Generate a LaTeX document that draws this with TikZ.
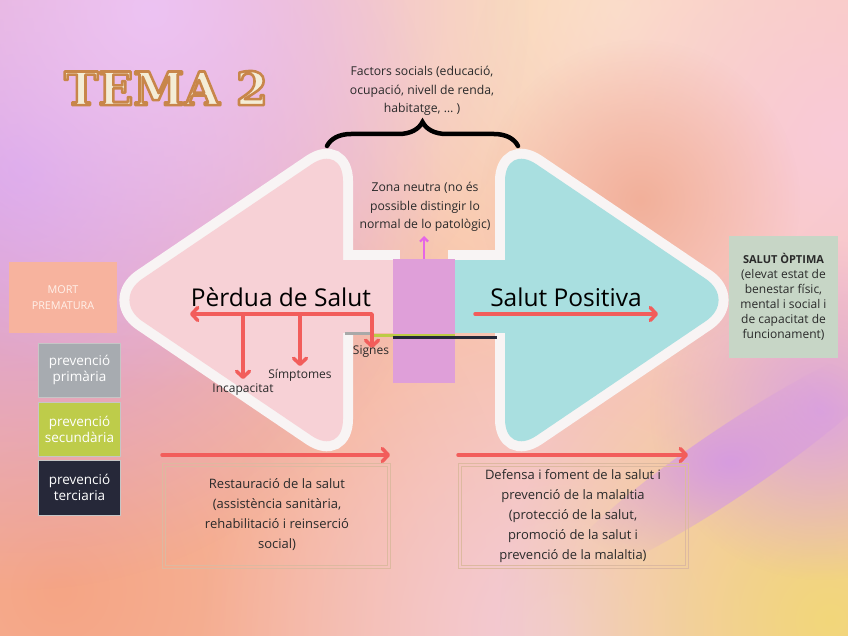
\documentclass[tikz,border=0pt]{standalone}
\usepackage{fontspec}
\setmainfont{Open Sans}
\newfontfamily\titlefont{DejaVu Serif}
\usetikzlibrary{arrows.meta,decorations.pathreplacing,fadings,calc}
\tikzfading[name=blobfade, inner color=transparent!0, outer color=transparent!100]
\definecolor{bgbase}{HTML}{F8C1AA}
\definecolor{pinkfill}{HTML}{F7D1D6}
\definecolor{cyanfill}{HTML}{A9DFE0}
\definecolor{bordercol}{HTML}{F8F4F4}
\definecolor{purplebox}{HTML}{DF9FD9}
\definecolor{redarr}{HTML}{F25D5B}
\definecolor{magarr}{HTML}{E566E6}
\definecolor{mortfill}{HTML}{F7B39E}
\definecolor{primfill}{HTML}{A7ABB0}
\definecolor{secfill}{HTML}{BECC4A}
\definecolor{terfill}{HTML}{262839}
\definecolor{optfill}{HTML}{C7D6C6}
\definecolor{boxline}{HTML}{DDB9A0}
\definecolor{titlecream}{HTML}{F4EDD6}
\definecolor{titlebrown}{HTML}{C8864A}
\definecolor{txt}{HTML}{2A2A2A}
\definecolor{greyline}{HTML}{A9A9A9}
\definecolor{greenline}{HTML}{BCCB45}
\definecolor{darkline}{HTML}{262839}
\definecolor{bgorange}{HTML}{F5A585}
\definecolor{bgpurple}{HTML}{D49DE8}
\definecolor{bglav}{HTML}{EDC3F3}
\definecolor{bgcream}{HTML}{FCE6C4}
\definecolor{bgpink}{HTML}{F9CAD8}
\definecolor{bgpinkb}{HTML}{F3CBD8}
\definecolor{bgyellow}{HTML}{F2D77A}
\definecolor{bghaze}{HTML}{DDA5DD}
\definecolor{bgstreak}{HTML}{D79CDF}
\definecolor{bgsalmon}{HTML}{F2B09A}
\begin{document}
\begin{tikzpicture}[x=1pt,y=-1pt,
  redarrow/.style={draw=redarr, line width=3.5pt, line cap=round, -{Straight Barb[length=6pt,width=13pt,round]}},
  smalltxt/.style={font=\fontsize{12.2}{18.5}\selectfont, text=txt, align=center, inner sep=0pt},
  bigtxt/.style={font=\fontsize{24.5}{28}\selectfont, text=black, inner sep=0pt},
  labeltxt/.style={font=\fontsize{12}{13}\selectfont, text=txt, inner sep=0pt},
  prevbox/.style={draw=gray!45, line width=0.8pt, minimum width=82pt, minimum height=54pt, align=center, text=white, font=\fontsize{13.5}{16}\selectfont, inner sep=0pt},
  bottomtxt/.style={font=\fontsize{13}{20}\selectfont, text=txt, align=center, inner sep=0pt},
  blob/.style={path fading=blobfade},
  titlestyle/.style={font=\titlefont\bfseries\fontsize{46}{50}\selectfont, inner sep=0pt}
]
\useasboundingbox (0,0) rectangle (848,636);
% background
\fill[bgbase] (0,0) rectangle (848,636);
\fill[blob, bgorange] (60,590) circle (460pt);
\fill[blob, bgpinkb] (560,630) circle (360pt);
\fill[blob, bgcream] (620,10) circle (380pt);
\fill[blob, bgpink] (840,140) circle (380pt);
\fill[blob, bgsalmon] (640,200) circle (160pt);
\fill[blob, bgpurple] (20,170) circle (420pt);
\fill[blob, bglav] (150,10) circle (380pt);
\fill[blob, bgyellow] (830,620) circle (330pt);
\fill[blob, bghaze] (820,410) circle (170pt);
\fill[blob, bgstreak, rotate around={34:(730,462)}] (730,462) ellipse (210pt and 34pt);

% title: glyphs filled in cream and stroked in brown
\node[titlestyle, text=titlecream] (title) at (166,88) {\special{pdf:literal direct 2 Tr 2.6 w 1 j 0.784 0.525 0.290 RG}TEMA 2\special{pdf:literal direct 0 Tr 0 0 0 RG}};

% shapes: white borders
\draw[bordercol, line width=20pt, rounded corners=38pt] (343,300) -- (343,143) -- (111,300) -- (343,457) -- cycle;
\draw[bordercol, line width=20pt] (330,260) -- (400,260);
\draw[bordercol, line width=20pt, rounded corners=38pt] (505,300) -- (505,143) -- (737,300) -- (505,457) -- cycle;
\draw[bordercol, line width=20pt] (448,260) -- (518,260);
% fills
\fill[pinkfill, rounded corners=38pt] (343,300) -- (343,143) -- (111,300) -- (343,457) -- cycle;
\fill[pinkfill] (330,260) rectangle (400,333);
\fill[cyanfill, rounded corners=38pt] (505,300) -- (505,143) -- (737,300) -- (505,457) -- cycle;
\fill[cyanfill] (448,260) rectangle (518,333);
% neutral zone
\fill[purplebox] (393,259) rectangle (455,383);
\coordinate (ztop) at (424,259);
\coordinate (zarrow) at (424,236);
\draw[magarr, line width=2.2pt, -{Straight Barb[length=4pt,width=8pt]}] (ztop) -- (zarrow);

% prevention lines
\draw[greyline, line width=3pt] (345,333) -- (373,333);
\draw[greenline, line width=3pt] (373,335.5) -- (455,335.5);
\draw[darkline, line width=3pt] (393,337) -- (497,337);

% brace
\coordinate (bl) at (327,146);
\coordinate (br) at (518,146);
\draw[black, line width=4.5pt, line cap=round, decorate, decoration={brace, amplitude=24pt, aspect=0.5}] (bl) -- (br);

% texts
\node[smalltxt] (factors) at (422,91) {Factors socials (educació,\\ocupació, nivell de renda,\\habitatge, … )};
\node[smalltxt] (zona) at (425,207) {Zona neutra (no és\\possible distingir lo\\normal de lo patològic)};
\node[bigtxt] (perdua) at (281,297) {Pèrdua de Salut};
\node[bigtxt] (positiva) at (566,297) {Salut Positiva};

% red arrows left
\coordinate (lleft) at (190,314);
\coordinate (lsig) at (372,348);
\coordinate (b1) at (243,314);
\coordinate (b1e) at (243,379);
\coordinate (b2) at (300,314);
\coordinate (b2e) at (300,366);
\draw[redarrow, {Straight Barb[length=6pt,width=13pt,round]}-{Straight Barb[length=6pt,width=13pt,round]}, line join=round] (lleft) -| (lsig);
\draw[redarrow] (b1) -- (b1e);
\draw[redarrow] (b2) -- (b2e);
\node[labeltxt] (incap) at (243,390) {Incapacitat};
\node[labeltxt] (simpt) at (300,375) {Símptomes};
\node[labeltxt] (signes) at (371,352) {Signes};

% red arrow right
\coordinate (rs) at (475,314);
\coordinate (re) at (658,314);
\draw[redarrow] (rs) -- (re);

% left boxes
\node[fill=mortfill, minimum width=108pt, minimum height=71pt, align=center, text={rgb,255:red,255;green,242;blue,235}, font=\fontsize{10.8}{16}\selectfont, inner sep=0pt] (mort) at (63,297.5) {MORT\\PREMATURA};
\node[prevbox, fill=primfill] (prim) at (79.5,370) {prevenció\\primària};
\node[prevbox, fill=secfill] (sec) at (79.5,429) {prevenció\\secundària};
\node[prevbox, fill=terfill, minimum height=55pt] (ter) at (79.5,487.5) {prevenció\\terciaria};

% right box
\node[fill=optfill, minimum width=109pt, minimum height=122pt, align=center, text=txt, font=\fontsize{12}{15}\selectfont, inner sep=0pt] (optima) at (783.5,297) {{\fontsize{11}{15}\selectfont\bfseries SALUT ÒPTIMA}\\(elevat estat de\\benestar físic,\\mental i social i\\de capacitat de\\funcionament)};

% bottom arrows
\coordinate (a1s) at (162,455);
\coordinate (a1e) at (390,455);
\coordinate (a2s) at (458,455);
\coordinate (a2e) at (688,455);
\draw[redarrow] (a1s) -- (a1e);
\draw[redarrow] (a2s) -- (a2e);

% bottom boxes
\draw[boxline, line width=0.8pt] (162,463) rectangle (390,568);
\draw[boxline, line width=0.8pt] (165,466) rectangle (387,565);
\draw[boxline, line width=0.8pt] (458,463) rectangle (688,568);
\draw[boxline, line width=0.8pt] (461,466) rectangle (685,565);
\node[bottomtxt] (rest) at (277,515) {Restauració de la salut\\(assistència sanitària,\\rehabilitació i reinserció\\social)};
\node[bottomtxt] (defensa) at (573,516) {Defensa i foment de la salut i\\prevenció de la malaltia\\(protecció de la salut,\\promoció de la salut i\\prevenció de la malaltia)};
\end{tikzpicture}
\end{document}
